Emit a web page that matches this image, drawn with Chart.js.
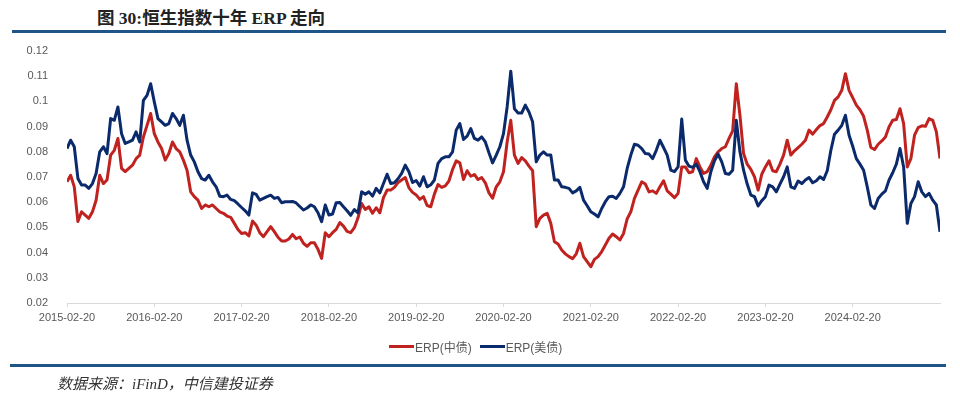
<!DOCTYPE html>
<html>
<head>
<meta charset="utf-8">
<script src="https://cdn.jsdelivr.net/npm/chart.js@4"></script>
<style>
  html, body { margin: 0; padding: 0; background: #fff; }
  body { width: 960px; height: 396px; position: relative; overflow: hidden; font-family: Arial, "Liberation Sans", "Noto Sans CJK SC", sans-serif; }
  .title { position: absolute; left: 97px; top: 4px; font: bold 17.5px "Liberation Serif", "Noto Sans CJK SC", serif; color: #222; white-space: nowrap; }
  .rule { position: absolute; left: 12px; right: 14px; background: #1f5486; }
  .rule.top { top: 30px; height: 3px; }
  .rule.bottom { top: 364px; height: 3px; left: 10px; }
  .source { position: absolute; left: 57px; top: 372px; font: italic 15px "Liberation Serif", "Noto Sans CJK SC", serif; color: #333; white-space: nowrap; }
  #wrap { position: absolute; left: 0; top: 0; width: 960px; height: 396px; }
  .legend { position: absolute; top: 338px; left: 389px; display: flex; gap: 8px; font: 12px "Liberation Sans", "Noto Sans CJK SC", sans-serif; color: #595959; }
  .legend .item { display: flex; align-items: center; }
  .legend .swatch { width: 25px; height: 3px; margin-right: 1px; }
</style>
</head>
<body>
<div class="title">图 30:恒生指数十年 ERP 走向</div>
<div class="rule top"></div>
<div id="wrap"><canvas id="erpChart"></canvas></div>
<div class="legend" id="legend"></div>
<div class="rule bottom"></div>
<div class="source">数据来源：iFinD，中信建投证券</div>
<script>
// one point roughly every half month, 24 per year, 2015-02-20 .. 2025-02
const TICK_LABELS = ['2015-02-20','2016-02-20','2017-02-20','2018-02-20','2019-02-20',
                     '2020-02-20','2021-02-20','2022-02-20','2023-02-20','2024-02-20'];
const POINTS_PER_YEAR = 24;
const Y_TICKS = [0.02, 0.12, 0.01]; // min, max, step

const SERIES_NAMES = ['ERP(中债)', 'ERP(美债)'];

const CN_ERP = [
  0.0681,0.0707,0.0661,0.0523,0.0562,0.0549,0.0536,0.0562,0.0608,0.0707,
  0.0674,0.0688,0.0787,0.0806,0.0853,0.0734,0.0721,0.0734,0.0747,0.0773,
  0.0787,0.0859,0.0905,0.0952,0.0872,0.0839,0.0813,0.0767,0.0793,0.0839,
  0.0813,0.0800,0.0767,0.0727,0.0641,0.0622,0.0608,0.0575,0.0589,0.0582,
  0.0589,0.0575,0.0562,0.0556,0.0545,0.0540,0.0516,0.0492,0.0476,0.0479,
  0.0466,0.0525,0.0509,0.0479,0.0463,0.0483,0.0503,0.0483,0.0461,0.0446,
  0.0446,0.0454,0.0472,0.0455,0.0462,0.0437,0.0425,0.0439,0.0439,0.0413,
  0.0377,0.0479,0.0463,0.0479,0.0492,0.0519,0.0505,0.0484,0.0479,0.0499,
  0.0538,0.0595,0.0571,0.0582,0.0556,0.0578,0.0558,0.0618,0.0648,0.0648,
  0.0659,0.0678,0.0688,0.0698,0.0657,0.0639,0.0629,0.0611,0.0622,0.0587,
  0.0582,0.0632,0.0670,0.0659,0.0665,0.0684,0.0730,0.0764,0.0756,0.0690,
  0.0725,0.0703,0.0710,0.0690,0.0698,0.0677,0.0637,0.0616,0.0661,0.0681,
  0.0721,0.0839,0.0925,0.0787,0.0754,0.0777,0.0764,0.0743,0.0725,0.0503,
  0.0536,0.0549,0.0556,0.0516,0.0443,0.0434,0.0410,0.0395,0.0384,0.0376,
  0.0395,0.0437,0.0384,0.0364,0.0344,0.0373,0.0384,0.0404,0.0430,0.0457,
  0.0474,0.0463,0.0450,0.0476,0.0534,0.0562,0.0615,0.0648,0.0681,0.0672,
  0.0641,0.0645,0.0635,0.0661,0.0685,0.0645,0.0632,0.0618,0.0635,0.0740,
  0.0740,0.0717,0.0721,0.0773,0.0740,0.0714,0.0721,0.0747,0.0780,0.0800,
  0.0813,0.0820,0.0853,0.0883,0.1070,0.0945,0.0793,0.0751,0.0730,0.0701,
  0.0648,0.0711,0.0740,0.0764,0.0725,0.0721,0.0751,0.0787,0.0846,0.0787,
  0.0804,0.0817,0.0830,0.0846,0.0886,0.0870,0.0888,0.0904,0.0912,0.0938,
  0.0967,0.1004,0.1018,0.1044,0.1110,0.1044,0.1015,0.0985,0.0967,0.0941,
  0.0886,0.0817,0.0809,0.0830,0.0843,0.0859,0.0899,0.0925,0.0928,0.0971,
  0.0912,0.0740,0.0773,0.0866,0.0896,0.0903,0.0901,0.0932,0.0925,0.0879,
  0.0773
];

const US_ERP = [
  0.0813,0.0846,0.0820,0.0694,0.0668,0.0668,0.0655,0.0674,0.0714,0.0800,
  0.0820,0.0793,0.0932,0.0925,0.0978,0.0872,0.0833,0.0839,0.0846,0.0879,
  0.0839,0.1004,0.1024,0.1070,0.0998,0.0932,0.0919,0.0905,0.0912,0.0952,
  0.0932,0.0905,0.0945,0.0846,0.0787,0.0760,0.0721,0.0694,0.0688,0.0707,
  0.0681,0.0661,0.0624,0.0622,0.0628,0.0611,0.0606,0.0593,0.0579,0.0566,
  0.0549,0.0637,0.0631,0.0608,0.0615,0.0622,0.0628,0.0615,0.0619,0.0598,
  0.0602,0.0602,0.0603,0.0597,0.0583,0.0569,0.0577,0.0589,0.0582,0.0558,
  0.0523,0.0589,0.0549,0.0553,0.0598,0.0599,0.0582,0.0566,0.0548,0.0571,
  0.0558,0.0641,0.0632,0.0641,0.0624,0.0655,0.0637,0.0674,0.0711,0.0674,
  0.0677,0.0693,0.0714,0.0747,0.0721,0.0678,0.0686,0.0664,0.0701,0.0661,
  0.0669,0.0688,0.0754,0.0773,0.0780,0.0780,0.0800,0.0886,0.0912,0.0849,
  0.0862,0.0892,0.0853,0.0846,0.0859,0.0839,0.0796,0.0756,0.0787,0.0820,
  0.0872,0.0978,0.1120,0.0971,0.0954,0.0954,0.0985,0.0958,0.0919,0.0760,
  0.0787,0.0800,0.0787,0.0787,0.0688,0.0688,0.0661,0.0659,0.0655,0.0637,
  0.0645,0.0659,0.0608,0.0586,0.0562,0.0553,0.0542,0.0575,0.0602,0.0622,
  0.0624,0.0615,0.0635,0.0661,0.0734,0.0787,0.0830,0.0826,0.0813,0.0793,
  0.0791,0.0773,0.0806,0.0846,0.0817,0.0787,0.0727,0.0721,0.0740,0.0930,
  0.0767,0.0743,0.0738,0.0751,0.0721,0.0681,0.0655,0.0721,0.0764,0.0791,
  0.0760,0.0714,0.0711,0.0727,0.0925,0.0800,0.0727,0.0672,0.0628,0.0622,
  0.0585,0.0606,0.0622,0.0668,0.0661,0.0641,0.0672,0.0701,0.0740,0.0661,
  0.0655,0.0684,0.0674,0.0688,0.0698,0.0677,0.0685,0.0701,0.0690,0.0725,
  0.0806,0.0870,0.0886,0.0905,0.0945,0.0866,0.0822,0.0773,0.0751,0.0727,
  0.0661,0.0589,0.0575,0.0615,0.0632,0.0645,0.0688,0.0717,0.0751,0.0813,
  0.0740,0.0516,0.0595,0.0622,0.0681,0.0641,0.0622,0.0635,0.0608,0.0589,
  0.0483
];

const COLORS = ['#C0221F', '#0B2A6B'];
const AXIS_GREY = '#d9d9d9';
const TEXT_GREY = '#595959';

const toPoints = arr => arr.map((v, i) => ({ x: i, y: v }));

const datasets = [
  { label: SERIES_NAMES[0], data: toPoints(CN_ERP), borderColor: COLORS[0], order: 1 },
  { label: SERIES_NAMES[1], data: toPoints(US_ERP), borderColor: COLORS[1], order: 0 },
].map(d => Object.assign(d, { borderWidth: 3, pointRadius: 0, tension: 0, fill: false, borderJoinStyle: 'round' }));

new Chart(document.getElementById('erpChart'), {
  type: 'line',
  data: { datasets },
  options: {
    responsive: true,
    maintainAspectRatio: false,
    animation: false,
    layout: { padding: { top: 51, right: 20, bottom: 60, left: 0 } },
    plugins: { legend: { display: false }, tooltip: { enabled: false } },
    scales: {
      x: {
        type: 'linear',
        min: 0,
        max: CN_ERP.length - 1,
        afterBuildTicks: s => { s.ticks = TICK_LABELS.map((_, k) => ({ value: k * POINTS_PER_YEAR })); },
        afterFit: s => { s.height = 33; },
        grid: { display: true, drawOnChartArea: false, drawTicks: true, tickLength: 4, color: AXIS_GREY },
        border: { display: true, color: AXIS_GREY, width: 1 },
        ticks: {
          autoSkip: false, maxRotation: 0, padding: 4,
          color: TEXT_GREY, font: { size: 11, family: 'Arial, "Liberation Sans"' },
          callback: v => TICK_LABELS[Math.round(v / POINTS_PER_YEAR)]
        }
      },
      y: {
        min: Y_TICKS[0],
        max: Y_TICKS[1],
        afterFit: s => { s.width = 67; },
        grid: { display: false },
        border: { display: false },
        ticks: {
          stepSize: Y_TICKS[2], padding: 11,
          color: TEXT_GREY, font: { size: 11, family: 'Arial, "Liberation Sans"' },
          callback: v => String(+v.toFixed(2))
        }
      }
    }
  }
});

// legend drawn as html, built from the series names and colours
document.getElementById('legend').innerHTML = SERIES_NAMES.map((n, i) =>
  `<div class="item"><span class="swatch" style="background:${COLORS[i]}"></span>${n}</div>`).join('');
</script>
</body>
</html>
